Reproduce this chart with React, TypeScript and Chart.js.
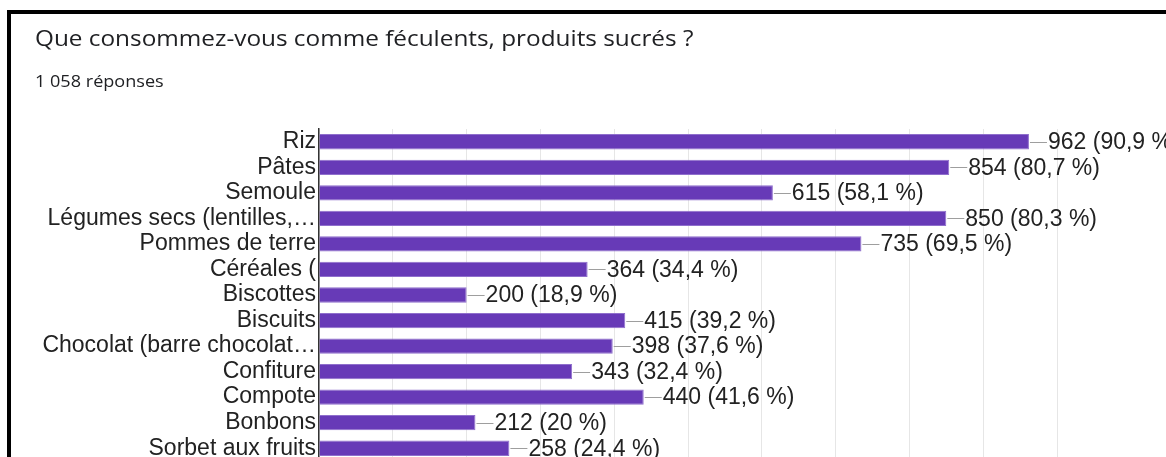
import React, { useEffect, useRef } from "react";
import { Chart, registerables } from "chart.js";

Chart.register(...registerables);

const categories = [
  "Riz",
  "Pâtes",
  "Semoule",
  "Légumes secs (lentilles,…",
  "Pommes de terre",
  "Céréales (",
  "Biscottes",
  "Biscuits",
  "Chocolat (barre chocolat…",
  "Confiture",
  "Compote",
  "Bonbons",
  "Sorbet aux fruits",
];

const counts = [962, 854, 615, 850, 735, 364, 200, 415, 398, 343, 440, 212, 258];
const percents = ["90,9", "80,7", "58,1", "80,3", "69,5", "34,4", "18,9", "39,2", "37,6", "32,4", "41,6", "20", "24,4"];

const xMax = 1000;
const xStep = 100;

const titleText = "Que consommez-vous comme féculents, produits sucrés ?";
const subtitleText = "1 058 réponses";

const CANVAS_W = 1166;
const CANVAS_H = 500;
const AREA_LEFT = 319;
const AREA_RIGHT = 1057;
const AREA_TOP = 129;
const AREA_BOTTOM = 461;

const labelFont = '23px "Liberation Sans", Arial, sans-serif';

const valueLabelPlugin = {
  id: "valueLabels",
  afterDatasetsDraw(chart: any) {
    const ctx = chart.ctx;
    const meta = chart.getDatasetMeta(0);
    ctx.save();
    meta.data.forEach((bar: any, i: number) => {
      const x = bar.x;
      const y = bar.y;
      ctx.strokeStyle = "#9e9e9e";
      ctx.lineWidth = 1;
      ctx.beginPath();
      ctx.moveTo(x + 1, Math.round(y) + 0.5);
      ctx.lineTo(x + 18, Math.round(y) + 0.5);
      ctx.stroke();
      ctx.fillStyle = "#222222";
      ctx.font = labelFont;
      ctx.textBaseline = "middle";
      ctx.textAlign = "left";
      ctx.fillText(`${counts[i]} (${percents[i]} %)`, x + 19, y + 1);
    });
    ctx.restore();
  },
};

export default function App() {
  const canvasRef = useRef<HTMLCanvasElement | null>(null);

  useEffect(() => {
    if (!canvasRef.current) return;
    const chart = new Chart(canvasRef.current, {
      type: "bar",
      data: {
        labels: categories,
        datasets: [
          {
            data: counts,
            backgroundColor: "#673ab7",
            borderColor: "#8f6fcc",
            borderWidth: 1,
            borderSkipped: "left",
            categoryPercentage: 1,
            barPercentage: 0.6,
          },
        ],
      },
      plugins: [valueLabelPlugin],
      options: {
        indexAxis: "y",
        animation: false,
        responsive: false,
        maintainAspectRatio: false,
        layout: {
          padding: {
            left: 0,
            top: AREA_TOP,
            right: CANVAS_W - AREA_RIGHT,
            bottom: CANVAS_H - AREA_BOTTOM,
          },
        },
        plugins: {
          legend: { display: false },
          tooltip: { enabled: false },
          title: { display: false },
        },
        scales: {
          x: {
            min: 0,
            max: xMax,
            ticks: { display: false, stepSize: xStep },
            grid: { color: "#e6e6e6", lineWidth: 1, drawTicks: false },
            border: { display: false },
            afterFit(scale: any) {
              scale.height = 0;
            },
          },
          y: {
            ticks: {
              color: "#222222",
              font: { family: '"Liberation Sans", Arial, sans-serif', size: 23 },
              padding: 3,
              autoSkip: false,
            },
            grid: { display: false, drawTicks: false },
            border: { display: true, color: "#333333", width: 1.5 },
            afterFit(scale: any) {
              scale.width = AREA_LEFT;
            },
          },
        },
      },
    });
    return () => chart.destroy();
  }, []);

  return (
    <div
      style={{
        position: "fixed",
        left: 0,
        top: 0,
        width: 1166,
        height: 457,
        overflow: "hidden",
        background: "#ffffff",
      }}
    >
      <canvas
        ref={canvasRef}
        width={CANVAS_W}
        height={CANVAS_H}
        style={{ position: "absolute", left: 0, top: 0, width: CANVAS_W, height: CANVAS_H }}
      />
      <div
        style={{
          position: "absolute",
          left: 7,
          top: 10,
          width: 1300,
          height: 600,
          border: "4px solid #000000",
          pointerEvents: "none",
        }}
      />
      <div
        style={{
          position: "absolute",
          left: 35,
          top: 23,
          fontFamily: "'Open Sans', Roboto, sans-serif",
          fontSize: 22,
          color: "#202124",
          whiteSpace: "nowrap",
          lineHeight: "28px",
          transform: "scaleX(1.106)",
          transformOrigin: "left center",
        }}
      >
        {titleText}
      </div>
      <div
        style={{
          position: "absolute",
          left: 35,
          top: 71,
          fontFamily: "'Open Sans', Roboto, sans-serif",
          fontSize: 16,
          color: "#202124",
          whiteSpace: "nowrap",
          lineHeight: "20px",
          transform: "scaleX(1.13)",
          transformOrigin: "left center",
        }}
      >
        {subtitleText}
      </div>
    </div>
  );
}
